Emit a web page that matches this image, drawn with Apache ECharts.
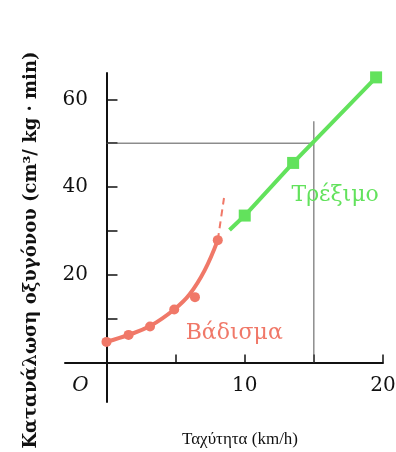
<!DOCTYPE html>
<html>
<head>
<meta charset="utf-8">
<script src="https://cdn.jsdelivr.net/npm/echarts@6/dist/echarts.min.js"></script>
<style>
  html, body { margin: 0; padding: 0; background: #fff; }
  #chart { width: 396px; height: 452px; }
</style>
</head>
<body>
<div id="chart"></div>
<script>
// walking (Βάδισμα) measured points, speed km/h vs O2 uptake
const walkPoints = [[0, 4.7], [1.6, 6.3], [3.15, 8.2], [4.9, 12.1], [6.4, 14.9], [8.05, 27.9]];
// fitted walking curve as drawn in the figure
const walkCurve = [[0, 4.7], [1.6, 6.3], [3.15, 8.3], [4.9, 12.1], [6.0, 15.5], [7.1, 21], [8.05, 27.9]];
// dashed extrapolation of the walking curve
const walkExtra = [[8.05, 27.9], [8.5, 37.5]];
// running (Τρέξιμο)
const runData = [[8.9, 30.2], [10, 33.5], [13.5, 45.5], [19.5, 65]];
// guide lines at 15 km/h / 50
const guideH = [[0, 50], [15, 50]];
const guideV = [[15, 55], [15, 0]];

const xTicks = [5, 10, 15, 20];
const xLabels = [0, 10, 20];
const yTicks = [10, 20, 30, 40, 50, 60];
const yLabels = [20, 40, 60];

const RED = '#f07868';
const GREEN = '#62e25c';
const INK = '#111';
const SERIF = '"DejaVu Serif", "Liberation Serif", serif';

const chart = echarts.init(document.getElementById('chart'));

const option = {
  backgroundColor: '#fff',
  animation: false,
  grid: { left: 65, right: 13, top: 73, bottom: 50, outerBoundsMode: 'none' },
  xAxis: {
    type: 'value',
    min: -3,
    max: 20,
    name: 'Ταχύτητα (km/h)',
    nameLocation: 'middle',
    nameGap: 29,
    nameMoveOverlap: false,
    nameTextStyle: { fontFamily: '"Liberation Serif", serif', fontSize: 17, color: INK, padding: [0, 0, 0, 32] },
    axisLine: { onZero: true, lineStyle: { color: INK, width: 2 } },
    axisTick: { inside: true, length: 8, customValues: xTicks, lineStyle: { color: INK, width: 1.5 } },
    axisLabel: {
      customValues: xLabels,
      margin: -26,
      fontFamily: SERIF,
      fontSize: 20,
      color: INK,
      formatter: v => v === 0 ? '{o|O}' : String(v),
      rich: { o: { fontFamily: SERIF, fontStyle: 'italic', fontSize: 20, color: INK, padding: [0, 52, 0, 0] } }
    },
    splitLine: { show: false }
  },
  yAxis: {
    type: 'value',
    min: -9,
    max: 66,
    name: 'Κατανάλωση οξυγόνου (cm³/ kg · min)',
    nameLocation: 'middle',
    nameRotate: 90,
    nameGap: 25,
    nameMoveOverlap: false,
    nameTextStyle: { fontFamily: SERIF, fontSize: 18, fontWeight: 'bold', color: INK, padding: [0, 25, 0, 0] },
    axisLine: { onZero: true, lineStyle: { color: INK, width: 2 } },
    axisTick: { inside: true, length: 11, customValues: yTicks, lineStyle: { color: INK, width: 1.5 } },
    axisLabel: { customValues: yLabels, margin: -23, fontFamily: SERIF, fontSize: 20, color: INK },
    splitLine: { show: false }
  },
  series: [
    {
      type: 'line',
      data: guideH,
      symbol: 'none',
      lineStyle: { color: '#555', width: 1 },
      z: 1
    },
    {
      type: 'line',
      data: guideV,
      symbol: 'none',
      lineStyle: { color: '#555', width: 1 },
      z: 1
    },
    {
      type: 'line',
      smooth: 0.4,
      data: walkCurve,
      symbol: 'none',
      lineStyle: { color: RED, width: 4 },
      z: 3
    },
    {
      name: 'Βάδισμα',
      type: 'scatter',
      data: walkPoints.map((d, i) => i === 3 ? {
        value: d,
        label: {
          show: true, formatter: 'Βάδισμα', offset: [60, 24], position: 'inside',
          fontFamily: SERIF, fontSize: 22, color: RED
        }
      } : d),
      symbol: 'circle',
      symbolSize: 10,
      itemStyle: { color: RED, opacity: 1 },
      z: 4
    },
    {
      type: 'line',
      data: walkExtra,
      symbol: 'none',
      lineStyle: { color: RED, width: 2, type: [7, 5] },
      z: 3
    },
    {
      name: 'Τρέξιμο',
      type: 'line',
      data: runData.map((d, i) => {
        if (i === 0) return { value: d, symbol: 'none' };
        if (i === 2) return {
          value: d,
          label: {
            show: true, formatter: 'Τρέξιμο', offset: [42, 32], position: 'inside',
            fontFamily: SERIF, fontSize: 22, color: GREEN
          }
        };
        return d;
      }),
      symbol: 'rect',
      symbolSize: 12,
      itemStyle: { color: GREEN },
      lineStyle: { color: GREEN, width: 4 },
      z: 3
    }
  ]
};

chart.setOption(option);
</script>
</body>
</html>
